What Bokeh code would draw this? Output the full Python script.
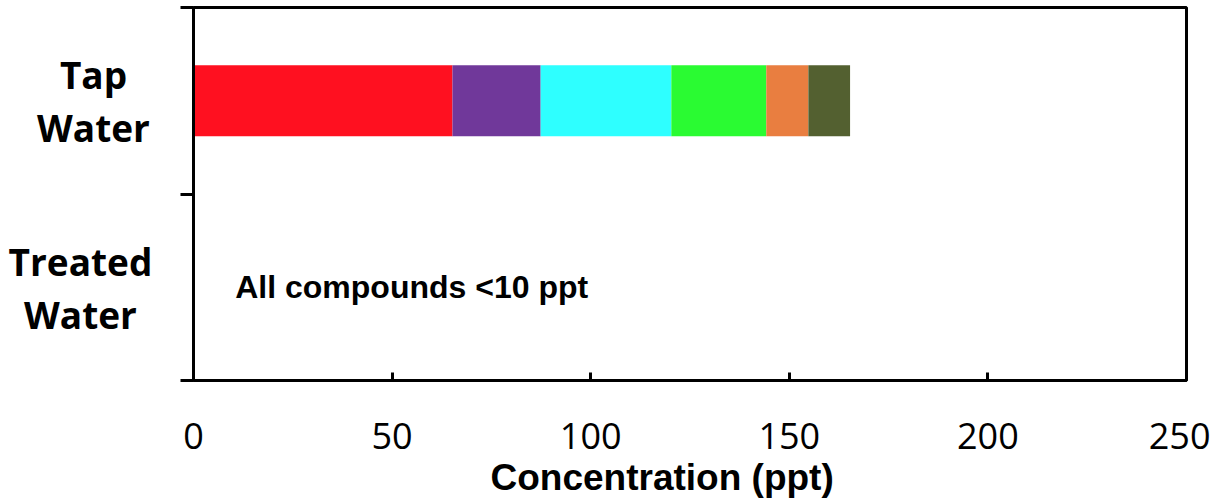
import numpy as np
from bokeh.plotting import figure
from bokeh.layouts import row
from bokeh.models import Range1d, FixedTicker, Label, ColumnDataSource, Title
from bokeh.embed import file_html
from bokeh.resources import INLINE

# ---- data ----
categories = ["Treated Water", "Tap Water"]          # bottom to top
compounds = ["Compound 1", "Compound 2", "Compound 3", "Compound 4", "Compound 5", "Compound 6"]
tap_values = [65.2, 22.2, 32.9, 23.9, 10.6, 10.5]     # ppt, Tap Water
treated_values = [0, 0, 0, 0, 0, 0]                   # all < 10 ppt (not shown)
colors = ["#FF1020", "#70389A", "#2EFFFF", "#2AFB32", "#E97E40", "#536030"]
x_ticks = [0, 50, 100, 150, 200, 250]
note_text = "All compounds <10 ppt"
x_title = "Concentration (ppt)"

H = 503
TOP = 7
FRAME_BOTTOM = 380
LW = 180            # width of the category-label column
MW = 1030           # width of the main chart
y_range = Range1d(0, len(categories))
ypos = {c: i + 0.5 for i, c in enumerate(categories)}

# ---- category labels column ----
lf = figure(width=LW, height=H, output_backend="svg", toolbar_location=None,
            x_range=Range1d(0, LW), y_range=y_range,
            x_axis_location=None, y_axis_location=None,
            min_border_left=0, min_border_right=0, min_border_top=TOP,
            min_border_bottom=H - FRAME_BOTTOM)
lf.outline_line_color = None
lf.grid.visible = False
lf.background_fill_color = "white"
lf.border_fill_color = "white"

label_center_x = {"Tap Water": 93, "Treated Water": 80}
lx, ly, lt, lo = [], [], [], []
for cat in categories:
    words = cat.split(" ")
    for w, off in zip(words, [-26, 27]):
        lx.append(label_center_x[cat]); ly.append(ypos[cat]); lt.append(w); lo.append(off)
lf.text(x="x", y="y", text="text", y_offset="off",
        source=ColumnDataSource(dict(x=lx, y=ly, text=lt, off=lo)),
        text_font={"value": "Open Sans"}, text_font_style="bold",
        text_font_size="37px", text_align="center", text_baseline="middle",
        text_color="black")

# ---- main chart ----
p = figure(width=MW, height=H, output_backend="svg", toolbar_location=None,
           x_range=Range1d(0, 250), y_range=y_range,
           min_border_left=193 - LW, min_border_right=MW - (1186 - LW),
           min_border_top=TOP, min_border_bottom=H - FRAME_BOTTOM)
p.background_fill_color = "white"
p.border_fill_color = "white"
p.outline_line_color = "black"
p.outline_line_width = 3
p.grid.visible = False

for series_vals, cat in [(treated_values, "Treated Water"), (tap_values, "Tap Water")]:
    vals = np.array(series_vals, dtype=float)
    right = np.cumsum(vals)
    left = right - vals
    src = ColumnDataSource(dict(y=[ypos[cat]] * len(vals), left=left, right=right,
                                color=colors, name=compounds))
    p.hbar(y="y", left="left", right="right", height=0.38, color="color",
           line_color=None, source=src)

xa = p.xaxis[0]
xa.ticker = FixedTicker(ticks=x_ticks)
xa.axis_line_width = 3
xa.axis_line_color = "black"
xa.major_tick_in = 8
xa.major_tick_out = 0
xa.major_tick_line_width = 3
xa.minor_tick_line_color = None
xa.major_label_text_font = "Open Sans"
xa.major_label_text_font_size = "36px"
xa.major_label_text_color = "black"
xa.major_label_standoff = 42

ya = p.yaxis[0]
ya.ticker = FixedTicker(ticks=list(range(len(categories) + 1)))
ya.axis_line_width = 3
ya.axis_line_color = "black"
ya.major_tick_in = 0
ya.major_tick_out = 13
ya.major_tick_line_width = 3
ya.minor_tick_line_color = None
ya.major_label_overrides = {i: "" for i in range(len(categories) + 1)}
ya.major_label_text_font_size = "1px"
ya.major_label_standoff = 0

p.add_layout(Label(x=10.5, y=ypos["Treated Water"], text=note_text,
                   text_font="Liberation Sans", text_font_style="bold",
                   text_font_size="32px", text_align="left", text_baseline="middle",
                   text_color="black"))

p.add_layout(Title(text=x_title, align="left", offset=490 - 193, standoff=6,
                   text_font="Liberation Sans", text_font_style="bold",
                   text_font_size="37px", text_color="black"), "below")

layout = row(lf, p, spacing=0)
open("out.html", "w").write(file_html(layout, INLINE))
